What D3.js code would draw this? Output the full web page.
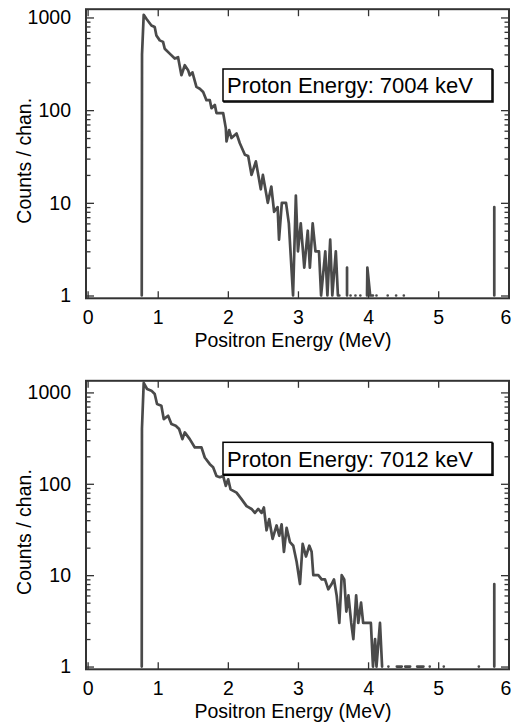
<!DOCTYPE html>
<html>
<head>
<meta charset="utf-8">
<script src="https://cdn.jsdelivr.net/npm/d3@7"></script>
<style>
  body { margin: 0; background: #fff; }
  svg { display: block; }
  text { font-family: "Liberation Sans", Arial, Helvetica, sans-serif; fill: #000; }
</style>
</head>
<body>
<svg id="chart" width="513" height="722"></svg>
<script>
// tick values shared by both panels
const xTicks = [0, 1, 2, 3, 4, 5, 6];
const yTicks = [1, 10, 100, 1000];
const xLabel = "Positron Energy (MeV)";
const yLabel = "Counts / chan.";

// upper spectrum, Ep = 7004 keV (0 = empty channel)
const labelTop = "Proton Energy: 7004 keV";
const energyTop = [0.772, 0.776, 0.800, 0.838, 0.910, 0.957, 0.981, 1.029, 1.076, 1.100,
  1.171, 1.243, 1.290, 1.338, 1.386, 1.433, 1.457, 1.495, 1.552, 1.600,
  1.648, 1.695, 1.743, 1.767, 1.814, 1.838, 1.933, 1.971, 1.981, 2.019,
  2.052, 2.124, 2.171, 2.243, 2.290, 2.338, 2.400, 2.470, 2.500, 2.570,
  2.620, 2.660, 2.710, 2.730, 2.770, 2.830, 2.870, 2.930, 2.970, 3.000,
  3.040, 3.090, 3.140, 3.170, 3.210, 3.250, 3.300, 3.330, 3.390, 3.420,
  3.460, 3.490, 3.540, 3.570, 3.590, 3.640, 3.700, 3.700, 3.720, 3.750,
  3.780, 3.820, 3.850, 3.890, 3.940, 3.985, 3.990, 4.030, 4.070, 4.100,
  4.120, 4.160, 4.280, 4.330, 4.400, 4.450, 4.510, 4.560, 5.800, 5.800, 5.850];
const countsTop = [1, 400, 1070, 968, 820, 790, 640, 566, 545, 460,
  407, 360, 373, 238, 305, 270, 238, 256, 178, 170,
  157, 128, 128, 105, 114, 93, 93, 64, 46, 61,
  50, 56, 44, 33, 32, 20, 28, 14, 20, 10,
  15, 8, 9, 4, 10, 10, 6, 1, 12, 3,
  6, 2, 5, 2, 6, 3, 3, 1, 3, 1,
  4, 1, 3, 1, 1, 0, 1, 2, 0, 1,
  0, 1, 0, 1, 0, 1, 2, 1, 1, 0,
  1, 0, 1, 0, 1, 0, 1, 0, 1, 9, 0];

// lower spectrum, Ep = 7012 keV
const labelBottom = "Proton Energy: 7012 keV";
const energyBottom = [0.772, 0.775, 0.800, 0.848, 0.910, 0.957, 0.990, 1.052, 1.086, 1.148,
  1.195, 1.257, 1.305, 1.352, 1.386, 1.457, 1.529, 1.624, 1.671, 1.743,
  1.790, 1.838, 1.886, 1.933, 1.971, 2.005, 2.038, 2.124, 2.195, 2.267,
  2.338, 2.386, 2.433, 2.481, 2.514, 2.552, 2.590, 2.638, 2.695, 2.733,
  2.767, 2.800, 2.838, 2.886, 2.933, 2.981, 3.029, 3.067, 3.114, 3.162,
  3.195, 3.219, 3.290, 3.338, 3.386, 3.433, 3.481, 3.514, 3.552, 3.590,
  3.624, 3.660, 3.690, 3.720, 3.760, 3.790, 3.830, 3.860, 3.900, 3.930,
  4.040, 4.070, 4.100, 4.120, 4.170, 4.200, 4.250, 4.290, 4.350, 4.410,
  4.480, 4.505, 4.530, 4.600, 4.650, 4.700, 4.790, 4.840, 4.880, 4.950,
  5.080, 5.150, 5.580, 5.650, 5.800, 5.800, 5.850];
const countsBottom = [1, 400, 1270, 1090, 1045, 960, 746, 715, 511, 556,
  450, 432, 398, 308, 365, 308, 250, 250, 194, 164,
  152, 122, 118, 122, 95, 112, 87, 80, 68, 57,
  53, 48, 53, 48, 55, 31, 41, 25, 35, 27,
  36, 18, 33, 23, 21, 14, 8, 22, 16, 21,
  18, 10, 10, 9, 9, 7, 8, 9, 6, 3,
  10, 9, 4, 6, 3, 2, 6, 3, 5, 3,
  3, 1, 2, 1, 3, 1, 0, 1, 0, 1,
  1, 0, 1, 1, 0, 1, 1, 0, 1, 0,
  1, 0, 1, 0, 1, 8, 0];

const svg = d3.select("#chart");

function drawPanel(energies, counts, label, lay) {
  const g = svg.append("g");
  const data = energies.map((e, i) => ({e: e, c: counts[i]}));

  const x = d3.scaleLinear().domain([-0.023, 6.01]).range([86, 509]);
  const y = d3.scaleLog().domain([0.933, lay.yMax]).range([lay.bottom, lay.top]);

  const minor = [];
  [1, 10, 100, 1000].forEach(d => { for (let k = 2; k < 10; k++) if (d * k < lay.yMax) minor.push(d * k); });

  const styleAxis = sel => {
    sel.select(".domain").remove();
    sel.selectAll("line").attr("stroke", "#333").attr("stroke-width", 1.3);
    sel.selectAll("text").style("font-size", "19.5px").attr("font-family", null);
  };

  const bottomAxis = g.append("g").attr("transform", `translate(0,${lay.bottom})`)
    .call(d3.axisBottom(x).tickValues(xTicks).tickSizeInner(-7).tickSizeOuter(0).tickPadding(12).tickFormat(d3.format("d")))
    .call(styleAxis);
  // last label sits right on the page edge
  bottomAxis.selectAll("text").filter(d => d === 6).attr("dx", -3);

  g.append("g").attr("transform", `translate(0,${lay.top})`)
    .call(d3.axisTop(x).tickValues(xTicks).tickSizeInner(-7).tickSizeOuter(0).tickFormat(""))
    .call(styleAxis);
  g.append("g").attr("transform", "translate(86,0)")
    .call(d3.axisLeft(y).tickValues(yTicks).tickSizeInner(-8).tickSizeOuter(0).tickPadding(15).tickFormat(d3.format("d")))
    .call(styleAxis);
  g.append("g").attr("transform", "translate(86,0)")
    .call(d3.axisLeft(y).tickValues(minor).tickSizeInner(-4.5).tickSizeOuter(0).tickFormat(""))
    .call(styleAxis);
  g.append("g").attr("transform", "translate(509,0)")
    .call(d3.axisRight(y).tickValues(yTicks).tickSizeInner(-8).tickSizeOuter(0).tickFormat(""))
    .call(styleAxis);
  g.append("g").attr("transform", "translate(509,0)")
    .call(d3.axisRight(y).tickValues(minor).tickSizeInner(-4.5).tickSizeOuter(0).tickFormat(""))
    .call(styleAxis);

  // spectrum
  const line = d3.line()
    .defined(d => d.c > 0)
    .x(d => x(d.e))
    .y(d => y(d.c));
  g.append("path")
    .datum(data)
    .attr("d", line)
    .attr("fill", "none")
    .attr("stroke", "#4a4a4a")
    .attr("stroke-width", 2.7)
    .attr("stroke-linejoin", "round")
    .attr("stroke-linecap", "round");

  // frame
  g.append("rect")
    .attr("x", 86).attr("y", lay.top)
    .attr("width", 509 - 86).attr("height", lay.bottom - lay.top)
    .attr("fill", "none").attr("stroke", "#333").attr("stroke-width", 2);

  // label box
  g.append("rect")
    .attr("x", 224).attr("y", lay.boxTop + 1)
    .attr("width", 269).attr("height", 32)
    .attr("fill", "none").attr("stroke", "#000").attr("stroke-width", 1.5);
  g.append("rect")
    .attr("x", 223).attr("y", lay.boxTop)
    .attr("width", 269).attr("height", 32)
    .attr("fill", "#fff").attr("stroke", "#000").attr("stroke-width", 1.5);
  g.append("text")
    .attr("x", 227).attr("y", lay.boxTop + 24.4)
    .style("font-size", "22px")
    .text(label);

  // axis titles
  g.append("text")
    .attr("x", 293).attr("y", lay.bottom + 48.5)
    .attr("text-anchor", "middle")
    .style("font-size", "19.5px")
    .text(xLabel);
  g.append("text")
    .attr("transform", `translate(31,${(lay.top + lay.bottom) / 2 + 7}) rotate(-90)`)
    .attr("text-anchor", "middle")
    .style("font-size", "19.5px")
    .text(yLabel);
}

drawPanel(energyTop, countsTop, labelTop, {top: 9.2, bottom: 298.3, yMax: 1228, boxTop: 69});
drawPanel(energyBottom, countsBottom, labelBottom, {top: 380.8, bottom: 669.3, yMax: 1340, boxTop: 442.3});
</script>
</body>
</html>
